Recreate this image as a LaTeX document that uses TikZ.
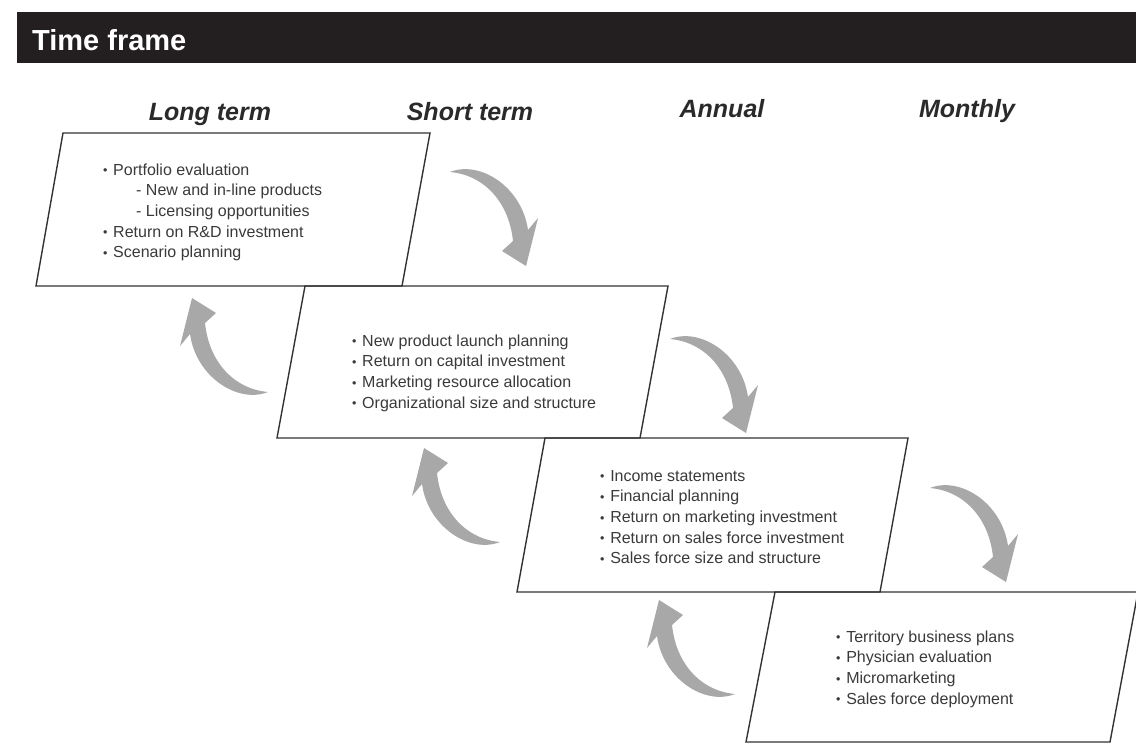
\documentclass[tikz,border=0pt]{standalone}
\usepackage{fontspec}
\setmainfont{Liberation Sans}
\definecolor{barblack}{HTML}{231F20}
\definecolor{txtgray}{HTML}{3A3A3A}
\definecolor{hdgray}{HTML}{2A2A2A}
\definecolor{arrowgray}{HTML}{A8A8A8}
\definecolor{edgegray}{HTML}{333333}
\newcommand{\mybul}{\makebox[5.6pt][l]{\raisebox{0.4pt}{\fontsize{12.5}{12.5}\selectfont •}}}
\begin{document}
\begin{tikzpicture}[x=1pt,y=-1pt,
  frame/.style={draw=edgegray, line width=1.4pt, line join=miter},
  bodytext/.style={anchor=base west, inner sep=0pt, text=txtgray, font=\fontsize{16}{20.7}\selectfont},
  colhead/.style={anchor=base, inner sep=0pt, text=hdgray, font=\fontsize{25}{30}\selectfont\bfseries\itshape},
  curvarrow/.pic={\fill[arrowgray] (0,0) .. controls (30,-12) and (72,15) .. (78,58) -- (88,46) -- (76,94) -- (52,79) -- (63,69) .. controls (59,30) and (34,3) .. (0,0) -- cycle;}
]
\useasboundingbox (0,0) rectangle (1136,744);
\fill[white] (0,0) rectangle (1136,744);

% title bar
\fill[barblack] (17,12) rectangle (1136,63);
\node[anchor=base west, inner sep=0pt, text=white, font=\fontsize{29}{34}\selectfont\bfseries] (title) at (32,50) {Time frame};

% column headers
\node[colhead] (hlong) at (210,120) {Long term};
\node[colhead] (hshort) at (470,120) {Short term};
\node[colhead] (hannual) at (722,117) {Annual};
\node[colhead] (hmonthly) at (967,117) {Monthly};

% parallelogram boxes
\draw[frame] (63,133) -- (430,133) -- (402,286) -- (36,286) -- cycle;
\draw[frame] (305,286) -- (668,286) -- (640,438) -- (277,438) -- cycle;
\draw[frame] (545,438) -- (908,438) -- (880,592) -- (517,592) -- cycle;
\draw[frame] (775,592) -- (1138,592) -- (1110,742) -- (746,742) -- cycle;

% box texts
\node[bodytext] (t1) at (103,175) {\begin{tabular}[t]{@{}l@{}}\mybul\ Portfolio evaluation\\ \hspace*{33pt}- New and in-line products\\ \hspace*{33pt}- Licensing opportunities\\ \mybul\ Return on R\&D investment\\ \mybul\ Scenario planning\end{tabular}};
\node[bodytext] (t2) at (352,346) {\begin{tabular}[t]{@{}l@{}}\mybul\ New product launch planning\\ \mybul\ Return on capital investment\\ \mybul\ Marketing resource allocation\\ \mybul\ Organizational size and structure\end{tabular}};
\node[bodytext] (t3) at (600,481) {\begin{tabular}[t]{@{}l@{}}\mybul\ Income statements\\ \mybul\ Financial planning\\ \mybul\ Return on marketing investment\\ \mybul\ Return on sales force investment\\ \mybul\ Sales force size and structure\end{tabular}};
\node[bodytext] (t4) at (836,642) {\begin{tabular}[t]{@{}l@{}}\mybul\ Territory business plans\\ \mybul\ Physician evaluation\\ \mybul\ Micromarketing\\ \mybul\ Sales force deployment\end{tabular}};

% curved arrows
\pic (d1) at (450,172) {curvarrow};
\pic (d2) at (670,339) {curvarrow};
\pic (d3) at (930,488) {curvarrow};
\pic[rotate=180] (u1) at (268,392) {curvarrow};
\pic[rotate=180] (u2) at (500,542) {curvarrow};
\pic[rotate=180] (u3) at (735,694) {curvarrow};
\end{tikzpicture}
\end{document}
